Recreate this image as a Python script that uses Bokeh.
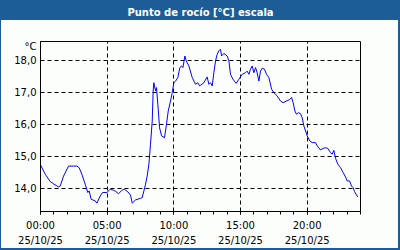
from bokeh.plotting import figure
from bokeh.models import FixedTicker, Range1d, LinearAxis
from bokeh.embed import file_html
from bokeh.resources import INLINE

# hours since 00:00 on 25/10/25
hours = [0.0, 0.35, 0.73, 0.98, 1.35, 1.48, 1.73, 2.1, 2.73, 2.9, 3.1, 3.35, 3.55, 3.65, 3.8,
         4.1, 4.23, 4.48, 4.65, 4.98, 5.23, 5.48, 5.65, 5.85, 6.1, 6.3, 6.55, 6.75, 6.88, 7.13,
         7.5, 7.63, 7.88, 8.0, 8.13, 8.25, 8.38, 8.45, 8.5, 8.63, 8.7, 8.8, 8.93, 9.08, 9.3,
         9.45, 9.58, 9.75, 9.88, 10.0, 10.13, 10.3, 10.45, 10.58, 10.68, 10.83, 10.93, 11.13,
         11.38, 11.63, 11.8, 11.93, 12.0, 12.25, 12.5, 12.63, 12.75, 12.88, 13.0, 13.13, 13.25,
         13.38, 13.5, 13.58, 13.75, 14.0, 14.13, 14.25, 14.43, 14.68, 14.88, 15.13, 15.38, 15.5,
         15.63, 15.75, 15.88, 16.0, 16.13, 16.25, 16.38, 16.5, 16.63, 16.8, 16.95, 17.13, 17.33,
         17.5, 17.75, 18.0, 18.2, 18.45, 18.7, 18.83, 18.95, 19.08, 19.2, 19.33, 19.5, 19.63,
         19.75, 19.88, 20.0, 20.2, 20.38, 20.63, 20.75, 21.0, 21.2, 21.38, 21.55, 21.75, 21.88,
         22.0, 22.13, 22.3, 22.5, 22.7, 22.88, 23.0, 23.18, 23.33, 23.45, 23.55, 23.7, 23.8]
dew_point = [14.75, 14.46, 14.23, 14.16, 14.06, 14.09, 14.40, 14.71, 14.71, 14.66, 14.46, 14.15,
             13.89, 13.94, 13.68, 13.63, 13.56, 13.78, 13.89, 13.89, 13.99, 13.96, 13.92, 13.85,
             13.96, 13.99, 13.91, 13.81, 13.56, 13.66, 13.71, 13.73, 14.15, 14.40, 14.77, 15.39,
             16.11, 17.04, 17.30, 17.04, 17.15, 16.63, 15.90, 15.65, 15.59, 16.01, 16.42, 16.73,
             16.99, 17.30, 17.35, 17.46, 17.77, 17.82, 17.77, 18.13, 17.98, 17.82, 17.46, 17.25,
             17.30, 17.20, 17.22, 17.30, 17.48, 17.25, 17.30, 17.20, 17.61, 17.98, 18.18, 18.29,
             18.34, 18.13, 18.21, 18.13, 17.98, 17.56, 17.41, 17.28, 17.41, 17.56, 17.61, 17.66,
             17.56, 17.72, 17.82, 17.61, 17.77, 17.61, 17.35, 17.66, 17.75, 17.72, 17.56, 17.46,
             17.10, 16.99, 16.89, 16.73, 16.68, 16.73, 16.78, 16.84, 16.68, 16.42, 16.32, 16.37,
             16.34, 16.21, 15.96, 15.80, 15.65, 15.49, 15.44, 15.44, 15.34, 15.21, 15.26, 15.28,
             15.26, 15.13, 15.08, 15.20, 14.95, 14.77, 14.66, 14.51, 14.37, 14.25, 14.25, 14.09,
             14.04, 13.92, 13.81, 13.75]

x_tick_hours = [0, 5, 10, 15, 20]
x_tick_times = ["00:00", "05:00", "10:00", "15:00", "20:00"]
x_tick_date = "25/10/25"
y_ticks = [14, 15, 16, 17, 18]
y_tick_labels = ["14,0", "15,0", "16,0", "17,0", "18,0"]
unit_pos = 18.44
unit_text = "°C"
title_text = "Punto de rocío [°C] escala"

BLUE = "#1d5d97"
BG = "#fcfefc"
FONT = "DejaVu Sans"

p = figure(width=400, height=250, output_backend="svg", toolbar_location=None,
           x_range=Range1d(0, 24), y_range=Range1d(13.30, 18.58),
           min_border_left=40, min_border_right=40, min_border_top=41, min_border_bottom=39,
           background_fill_color=BG, border_fill_alpha=0)

# title bar and thin blue frame drawn behind the (transparent) canvas border
p.styles = {
    "background": f"linear-gradient({BLUE}, {BLUE}) top left / 100% 20px no-repeat, {BG}",
    "box-shadow": f"inset 1px 0 0 {BLUE}, inset -2px 0 0 {BLUE}, inset 0 -2px 0 {BLUE}",
}

# the title, carried by a bare axis above the plot area
title_axis = LinearAxis(ticker=FixedTicker(ticks=[], minor_ticks=[]), axis_label=title_text,
                        axis_line_alpha=0, major_tick_out=0, major_tick_in=0,
                        minor_tick_out=0, minor_tick_in=0, major_label_standoff=0,
                        axis_label_standoff=24, axis_label_text_color="white",
                        axis_label_text_font=FONT, axis_label_text_font_size="10px",
                        axis_label_text_font_style="bold")
p.add_layout(title_axis, "above")

p.outline_line_color = "black"
p.outline_line_width = 1

xax = p.below[0]
xax.ticker = FixedTicker(ticks=x_tick_hours, minor_ticks=list(range(0, 25)))
xax.major_label_overrides = {h: f"{t}\n{x_tick_date}" for h, t in zip(x_tick_hours, x_tick_times)}
xax.major_tick_out = 3
xax.major_tick_in = 0
xax.minor_tick_out = 3
xax.minor_tick_in = 0
xax.major_label_standoff = 5
xax.major_label_text_line_height = 1.45

yax = p.left[0]
yax.ticker = FixedTicker(ticks=y_ticks + [unit_pos], minor_ticks=[])
yax.major_label_overrides = {**{t: l for t, l in zip(y_ticks, y_tick_labels)}, unit_pos: unit_text}
yax.major_tick_out = 0
yax.major_tick_in = 0
yax.minor_tick_out = 0
yax.minor_tick_in = 0
yax.major_label_standoff = 4

for ax in (xax, yax):
    ax.axis_line_color = "black"
    ax.major_tick_line_color = "black"
    ax.minor_tick_line_color = "black"
    ax.major_label_text_font = FONT
    ax.major_label_text_font_size = "10px"
    ax.major_label_text_color = "black"

p.xgrid.ticker = FixedTicker(ticks=x_tick_hours)
p.ygrid.ticker = FixedTicker(ticks=y_ticks)
p.grid.grid_line_color = "black"
p.grid.grid_line_dash = "4 3"
p.grid.grid_line_width = 1

p.line(hours, dew_point, line_color="#0000ff", line_width=1)

open("out.html", "w").write(file_html(p, INLINE))
